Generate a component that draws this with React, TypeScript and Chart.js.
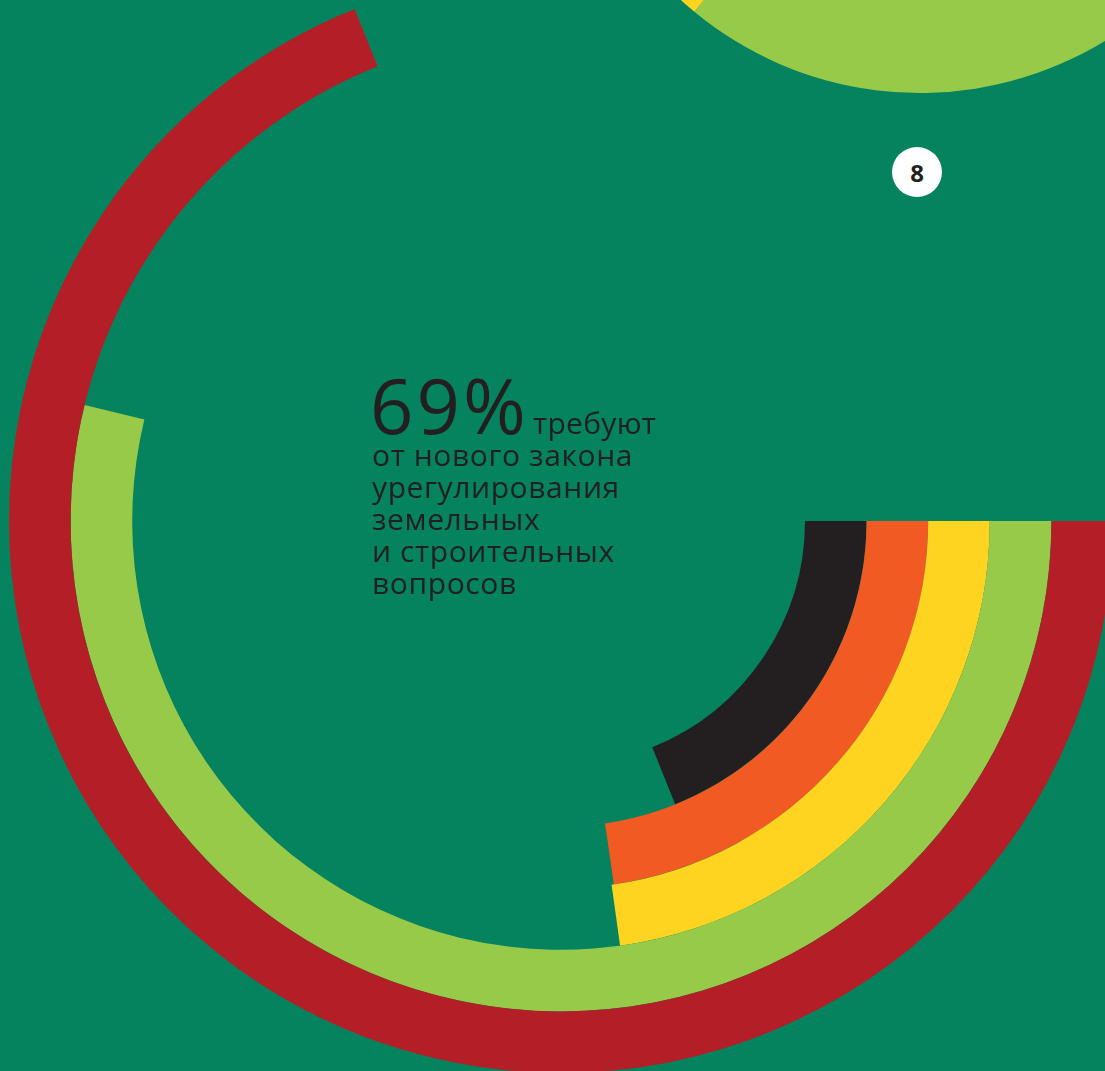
import React, { useEffect, useRef } from "react";
import { Chart, registerables } from "chart.js";

Chart.register(...registerables);

// Main radial chart (outer ring first), shares in %
const ringLabels = ["Ряд 1", "Ряд 2", "Ряд 3", "Ряд 4", "Ряд 5"];
const ringValues = [68.9, 53.8, 22.8, 22.7, 18.9];
const ringColors = ["#b41f27", "#98ca4a", "#fed420", "#f15a22", "#231f20"];

// Partially visible chart from the previous item (top right)
const topLabels = ["Сегмент 1", "Сегмент 2", "Сегмент 3"];
const topValues = [36, 20, 44];
const topColors = ["#98ca4a", "#fed420", "#98ca4a"];

const headline = "69%";
const firstWord = "требуют";
const bodyLines = ["от нового закона", "урегулирования", "земельных", "и строительных", "вопросов"];
const badgeNumber = "8";

const BG = "#04835e";
const TEXT = "#231f20";
const FONT = "'Open Sans', 'Noto Sans', sans-serif";

export default function App() {
  const mainRef = useRef<HTMLCanvasElement | null>(null);
  const topRef = useRef<HTMLCanvasElement | null>(null);

  useEffect(() => {
    const charts: Chart[] = [];
    if (mainRef.current) {
      charts.push(
        new Chart(mainRef.current, {
          type: "doughnut",
          data: {
            labels: ["value", "rest"],
            datasets: ringValues.map((v, i) => ({
              label: ringLabels[i],
              data: [v, 100 - v],
              backgroundColor: [ringColors[i], "rgba(0,0,0,0)"],
              borderWidth: 0,
            })),
          },
          options: {
            responsive: false,
            animation: false,
            devicePixelRatio: 1,
            rotation: 90,
            cutout: "44.2%",
            events: [],
            layout: { padding: 0 },
            plugins: { legend: { display: false }, tooltip: { enabled: false } },
          },
        })
      );
    }
    if (topRef.current) {
      charts.push(
        new Chart(topRef.current, {
          type: "pie",
          data: {
            labels: topLabels,
            datasets: [
              {
                data: topValues,
                backgroundColor: topColors,
                borderWidth: 0,
              },
            ],
          },
          options: {
            responsive: false,
            animation: false,
            devicePixelRatio: 1,
            rotation: 90,
            events: [],
            layout: { padding: 0 },
            plugins: { legend: { display: false }, tooltip: { enabled: false } },
          },
        })
      );
    }
    return () => charts.forEach((c) => c.destroy());
  }, []);

  return (
    <div
      style={{
        position: "fixed",
        left: 0,
        top: 0,
        width: 1105,
        height: 1071,
        overflow: "hidden",
        background: BG,
        fontFamily: FONT,
        color: TEXT,
      }}
    >
      <canvas
        ref={topRef}
        width={708}
        height={708}
        style={{ position: "absolute", left: 566, top: -615, width: 708, height: 708 }}
      />
      <canvas
        ref={mainRef}
        width={1104}
        height={1104}
        style={{ position: "absolute", left: 9, top: -31, width: 1104, height: 1104 }}
      />
      <div
        style={{
          position: "absolute",
          left: 892,
          top: 147,
          width: 50,
          height: 50,
          borderRadius: "50%",
          background: "#ffffff",
          display: "flex",
          alignItems: "center",
          justifyContent: "center",
          fontSize: 24,
          fontWeight: 700,
          color: TEXT,
        }}
      >
        {badgeNumber}
      </div>
      <div
        style={{
          position: "absolute",
          left: 370,
          top: 367,
          fontSize: 76,
          lineHeight: "76px",
          fontWeight: 380,
          letterSpacing: 3,
          whiteSpace: "nowrap",
        }}
      >
        {headline}
      </div>
      <div
        style={{
          position: "absolute",
          left: 533,
          top: 407,
          fontSize: 30,
          lineHeight: "32px",
          letterSpacing: 0.3,
          whiteSpace: "nowrap",
        }}
      >
        {firstWord}
      </div>
      <div
        style={{
          position: "absolute",
          left: 372,
          top: 439,
          fontSize: 30,
          lineHeight: "32px",
          letterSpacing: 0.6,
          whiteSpace: "nowrap",
        }}
      >
        {bodyLines.map((l, i) => (
          <div key={i}>{l}</div>
        ))}
      </div>
    </div>
  );
}
